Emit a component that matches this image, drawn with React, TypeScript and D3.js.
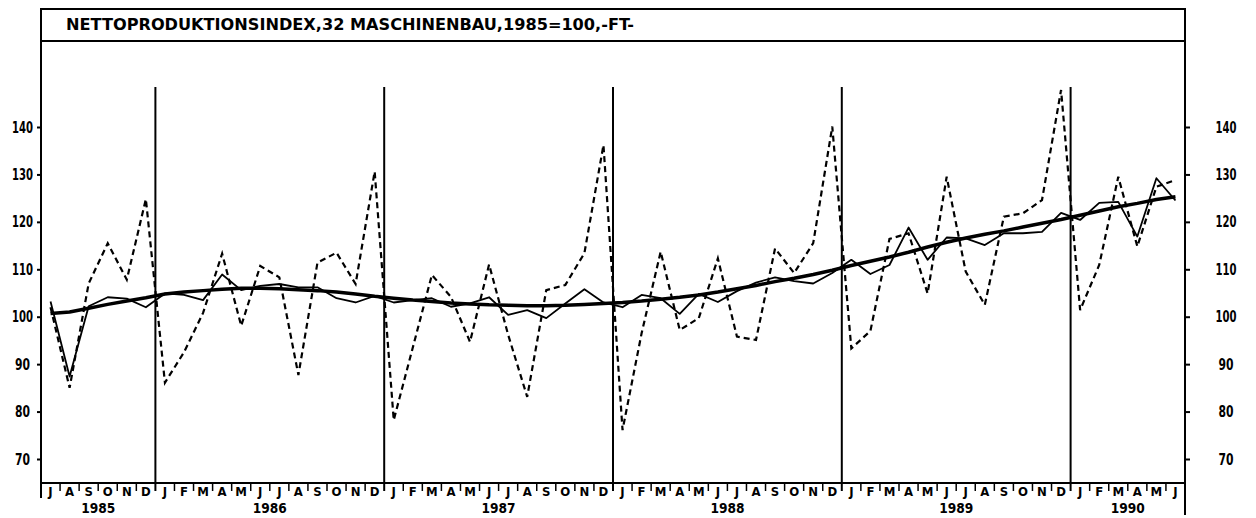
import React, { useRef, useEffect } from 'react';
import * as d3 from 'd3';

const title = 'NETTOPRODUKTIONSINDEX,32 MASCHINENBAU,1985=100,-FT-';
const monthLetters = ['J', 'F', 'M', 'A', 'M', 'J', 'J', 'A', 'S', 'O', 'N', 'D'];
const yTicks = [70, 80, 90, 100, 110, 120, 130, 140];
const firstYear = 1985;
const firstMonth = 6; // Juli

// Originalwerte (gestrichelt), Jul 1985 - Jun 1990
const original = [
  102.0, 85.0, 107.0, 115.5, 107.8, 124.8,
  86.1, 92.5, 100.8, 113.3, 98.1, 110.7, 108.3, 87.7, 111.4, 113.5, 106.9, 130.6,
  78.2, 93.5, 108.8, 104.2, 94.7, 111.0, 96.2, 83.1, 105.6, 106.7, 113.4, 136.2,
  76.1, 96.5, 113.7, 97.2, 99.7, 112.3, 95.8, 95.1, 114.4, 109.2, 115.5, 140.1,
  93.3, 97.0, 116.4, 117.6, 104.9, 129.5, 109.5, 102.5, 121.1, 121.8, 124.6, 147.8,
  101.4, 110.9, 129.5, 114.8, 127.4, 128.8,
];

// saisonbereinigt (duenn)
const adjusted = [
  103.2, 87.4, 102.2, 104.1, 103.8, 102.0,
  104.9, 104.6, 103.5, 108.9, 105.6, 106.5, 106.9, 106.2, 106.2, 103.9, 103.0, 104.4,
  103.0, 103.5, 103.9, 102.1, 102.8, 104.1, 100.4, 101.4, 99.7, 102.8, 105.8, 103.0,
  102.0, 104.6, 103.9, 100.6, 104.8, 103.1, 105.4, 107.2, 108.3, 107.5, 107.0, 109.2,
  112.0, 109.0, 110.9, 118.8, 112.0, 116.7, 116.5, 115.1, 117.6, 117.6, 117.9, 121.9,
  120.4, 124.0, 124.2, 116.9, 129.2, 124.5,
];

// Trend (dick)
const trend = [
  100.7, 101.0, 101.8, 102.6, 103.3, 104.0,
  104.8, 105.2, 105.5, 105.8, 106.0, 106.0, 105.9, 105.7, 105.5, 105.2, 104.8, 104.3,
  103.9, 103.5, 103.2, 102.9, 102.7, 102.5, 102.4, 102.3, 102.3, 102.4, 102.6, 102.8,
  103.0, 103.3, 103.7, 104.1, 104.6, 105.2, 105.9, 106.6, 107.4, 108.1, 108.9, 109.8,
  110.8, 111.7, 112.6, 113.6, 114.7, 115.7, 116.6, 117.4, 118.1, 118.9, 119.7, 120.5,
  121.4, 122.3, 123.2, 123.9, 124.7, 125.3,
];

const font = '"DejaVu Sans Condensed", "DejaVu Sans", sans-serif';

const App: React.FC = () => {
  const svgRef = useRef<SVGSVGElement>(null);

  useEffect(() => {
    if (!svgRef.current) return;
    const svg = d3.select(svgRef.current);
    svg.selectAll('*').remove();

    const left = 41, right = 1185, top = 9, titleBottom = 41, axisY = 483;

    const periods = original.map((_, i) => ({
      year: firstYear + Math.floor((firstMonth + i) / 12),
      month: (firstMonth + i) % 12,
    }));

    const x = d3.scaleBand<number>().domain(d3.range(original.length)).range([left, right]);
    const cx = (i: number) => (x(i) ?? 0) + x.bandwidth() / 2;
    const y = d3.scaleLinear().domain([70, 140]).range([459, 127]);

    // frame
    svg.append('rect')
      .attr('x', left).attr('y', top)
      .attr('width', right - left).attr('height', titleBottom - top)
      .attr('fill', 'none').attr('stroke', '#000').attr('stroke-width', 2);
    svg.append('line').attr('x1', left).attr('x2', left).attr('y1', top).attr('y2', 498)
      .attr('stroke', '#000').attr('stroke-width', 2);
    svg.append('line').attr('x1', right).attr('x2', right).attr('y1', top).attr('y2', 515)
      .attr('stroke', '#000').attr('stroke-width', 2);
    svg.append('line').attr('x1', left).attr('x2', right).attr('y1', axisY).attr('y2', axisY)
      .attr('stroke', '#000').attr('stroke-width', 2);

    svg.append('text')
      .attr('x', 66).attr('y', 30)
      .attr('textLength', 568).attr('lengthAdjust', 'spacingAndGlyphs')
      .style('font-family', font).style('font-weight', 'bold').style('font-size', '16px')
      .text(title);

    // y axes
    const styleAxis = (g: d3.Selection<SVGGElement, unknown, null, undefined>, anchorX: number) => {
      g.select('.domain').remove();
      g.selectAll('line').attr('stroke', '#000').attr('stroke-width', 2);
      g.selectAll<SVGTextElement, number>('text')
        .attr('x', anchorX)
        .attr('text-anchor', 'middle')
        .attr('textLength', d => (String(d).length === 3 ? 21 : 15))
        .attr('lengthAdjust', 'spacingAndGlyphs')
        .style('font-family', font).style('font-weight', 'bold').style('font-size', '16px')
        .attr('fill', '#000');
    };
    svg.append('g')
      .attr('transform', `translate(${left},0)`)
      .call(d3.axisLeft(y).tickValues(yTicks).tickSize(4))
      .call(g => styleAxis(g, 22.5 - left));
    svg.append('g')
      .attr('transform', `translate(${right},0)`)
      .call(d3.axisRight(y).tickValues(yTicks).tickSize(5))
      .call(g => styleAxis(g, 1226 - right));

    // year separators and month ticks
    periods.forEach((p, i) => {
      if (i === 0) return;
      const bx = x(i) ?? 0;
      svg.append('line')
        .attr('x1', bx).attr('x2', bx)
        .attr('y1', p.month === 0 ? 87 : axisY).attr('y2', 491)
        .attr('stroke', '#000').attr('stroke-width', p.month === 0 ? 2 : 1.5);
    });

    svg.append('g').selectAll('text')
      .data(periods)
      .enter().append('text')
      .attr('x', (_, i) => cx(i))
      .attr('y', 496)
      .attr('text-anchor', 'middle')
      .style('font-family', font).style('font-weight', 'bold').style('font-size', '13px')
      .text(d => monthLetters[d.month]);

    const years = Array.from(new Set(periods.map(p => p.year)));
    years.forEach(yr => {
      const idx = periods.map((p, i) => (p.year === yr ? i : -1)).filter(i => i >= 0);
      const x0 = x(idx[0]) ?? 0;
      const x1 = (x(idx[idx.length - 1]) ?? 0) + x.bandwidth();
      svg.append('text')
        .attr('x', (x0 + x1) / 2).attr('y', 513)
        .attr('text-anchor', 'middle')
        .attr('textLength', 34).attr('lengthAdjust', 'spacingAndGlyphs')
        .style('font-family', font).style('font-weight', 'bold').style('font-size', '14px')
        .text(String(yr));
    });

    // series
    const line = d3.line<number>().x((_, i) => cx(i)).y(d => y(d));

    svg.append('path').datum(original)
      .attr('d', line).attr('fill', 'none').attr('stroke', '#000')
      .attr('stroke-width', 2.2).attr('stroke-dasharray', '6,4');
    svg.append('path').datum(adjusted)
      .attr('d', line).attr('fill', 'none').attr('stroke', '#000')
      .attr('stroke-width', 1.8).attr('stroke-linejoin', 'round');
    svg.append('path').datum(trend)
      .attr('d', line).attr('fill', 'none').attr('stroke', '#000')
      .attr('stroke-width', 3.5).attr('stroke-linejoin', 'round');
  }, []);

  return (
    <svg
      ref={svgRef}
      width={1256}
      height={518}
      style={{ position: 'absolute', left: 0, top: 0, background: '#fff' }}
    />
  );
};

export default App;
